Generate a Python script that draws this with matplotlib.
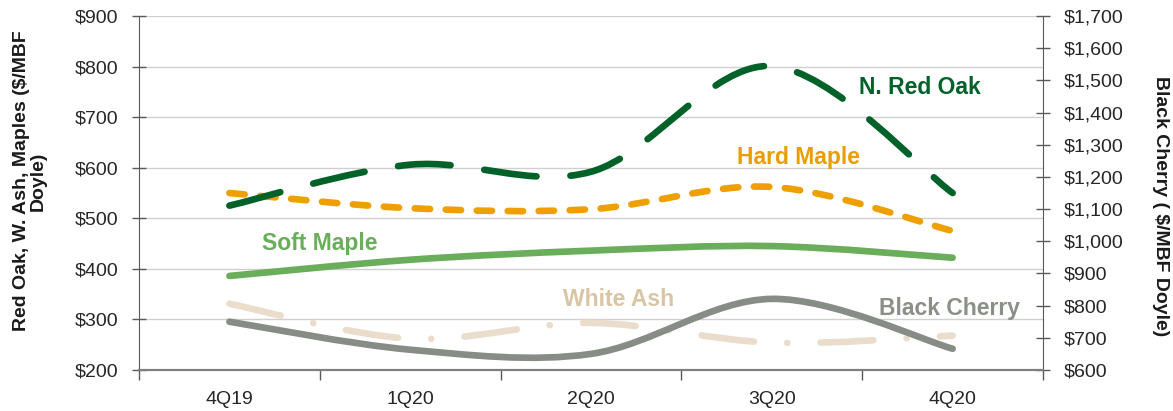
import numpy as np
import matplotlib
matplotlib.use("Agg")
import matplotlib.pyplot as plt
from matplotlib.path import Path
from matplotlib.patches import PathPatch
import matplotlib.ticker as mticker

plt.rcParams["font.family"] = ["Liberation Sans", "DejaVu Sans"]

# ── data ────────────────────────────────────────────────────────────
quarters = ["4Q19", "1Q20", "2Q20", "3Q20", "4Q20"]
red_oak = [525, 606, 592, 801, 550]
hard_maple = [550, 520, 518, 562, 475]
soft_maple = [386, 418, 436, 445, 422]
white_ash = [331, 262, 293, 254, 268]
black_cherry = [750, 663, 650, 821, 666]   # right axis

left_ticks = [200, 300, 400, 500, 600, 700, 800, 900]
right_ticks = [600, 700, 800, 900, 1000, 1100, 1200, 1300, 1400, 1500, 1600, 1700]


def smooth_path(xs, ys):
    """Excel-style smoothed line: cubic Bezier segments through each point."""
    xs = np.asarray(xs, float)
    ys = np.asarray(ys, float)
    pts = np.column_stack([xs, ys])
    n = len(pts)
    verts = [pts[0]]
    codes = [Path.MOVETO]
    for i in range(n - 1):
        p_prev = pts[i - 1] if i > 0 else pts[i]
        p0, p1 = pts[i], pts[i + 1]
        p_next = pts[i + 2] if i + 2 < n else pts[i + 1]
        c1 = p0 + (p1 - p_prev) / 6.0
        c2 = p1 - (p_next - p0) / 6.0
        verts += [c1, c2, p1]
        codes += [Path.CURVE4] * 3
    return Path(verts, codes)


def add_line(ax, ys, color, lw, ls):
    patch = PathPatch(smooth_path(np.arange(len(ys)), ys), fill=False,
                      edgecolor=color, linewidth=lw, linestyle=ls,
                      capstyle="round", joinstyle="round", zorder=3)
    ax.add_patch(patch)
    return patch


fig = plt.figure(figsize=(11.73, 4.11), dpi=100)
ax = fig.add_axes([0.1185, 0.0998, 0.7707, 0.8612])
ax2 = ax.twinx()

LW = 4.8
add_line(ax, white_ash, "#EADDCC", LW, (0, (7.9, 5.0, 0.01, 5.0)))
add_line(ax, soft_maple, "#6AAD5A", LW, "-")
add_line(ax, hard_maple, "#EDA000", LW, (0, (2.3, 2.35)))
add_line(ax, red_oak, "#006129", LW, (0, (7.9, 5.1)))
add_line(ax2, black_cherry, "#878D86", LW, "-")

# ── axes ────────────────────────────────────────────────────────────
ax.set_xlim(-0.5, len(quarters) - 0.5)
ax.set_ylim(200, 900)
ax2.set_ylim(600, 1700)

ax.set_yticks(left_ticks)
ax.yaxis.set_major_formatter(mticker.FuncFormatter(lambda v, _: f"${v:,.0f}"))
ax2.set_yticks(right_ticks)
ax2.yaxis.set_major_formatter(mticker.FuncFormatter(lambda v, _: f"${v:,.0f}"))

ax.set_xticks(np.arange(-0.5, len(quarters), 1.0))
ax.set_xticklabels([])
ax.set_xticks(np.arange(len(quarters)), minor=True)
ax.set_xticklabels(quarters, minor=True)
ax.tick_params(axis="x", which="major", length=7, width=1.0, color="#595959",
               direction="out")
ax.tick_params(axis="x", which="minor", length=0, pad=15, labelsize=14,
               labelcolor="#262626")
ax.tick_params(axis="y", length=10, width=1.0, color="#595959",
               direction="inout", pad=10, labelsize=14, labelcolor="#262626")
ax2.tick_params(axis="y", length=10, width=1.0, color="#595959",
                direction="inout", pad=10, labelsize=14, labelcolor="#262626")

ax.grid(axis="y", color="#D0D0D0", linewidth=1.0, zorder=0)
ax.set_axisbelow(True)

for a in (ax, ax2):
    a.spines["top"].set_visible(False)
    a.spines["left"].set_color("#595959")
    a.spines["right"].set_color("#595959")
    a.spines["bottom"].set_color("#7F7F7F")
    a.spines["bottom"].set_linewidth(1.5)
ax2.spines["left"].set_visible(False)
ax.spines["right"].set_visible(False)

fig.text(30 / 1173, 1 - 181 / 411, "Red Oak, W. Ash, Maples ($/MBF\nDoyle)",
         rotation=90, ha="center", va="center", fontsize=14,
         fontweight="bold", color="#1A1A1A", linespacing=1.0)
fig.text(1160 / 1173, 1 - 206 / 411, "Black Cherry ( $/MBF Doyle)",
         rotation=-90, ha="center", va="center", fontsize=14,
         fontweight="bold", color="#1A1A1A")

# ── series labels ───────────────────────────────────────────────────
label_kw = dict(ha="center", va="center", fontsize=16.5, fontweight="bold")
ax.text(3.82, 758, "N. Red Oak", color="#006129", **label_kw)
ax.text(3.15, 621, "Hard Maple", color="#E89E00", **label_kw)
ax.text(0.50, 451, "Soft Maple", color="#6AAD5A", **label_kw)
ax.text(2.15, 339, "White Ash", color="#D9C4A4", **label_kw)
ax.text(3.98, 321, "Black Cherry", color="#8A8F88", **label_kw)

fig.savefig("out.png", dpi=100)
